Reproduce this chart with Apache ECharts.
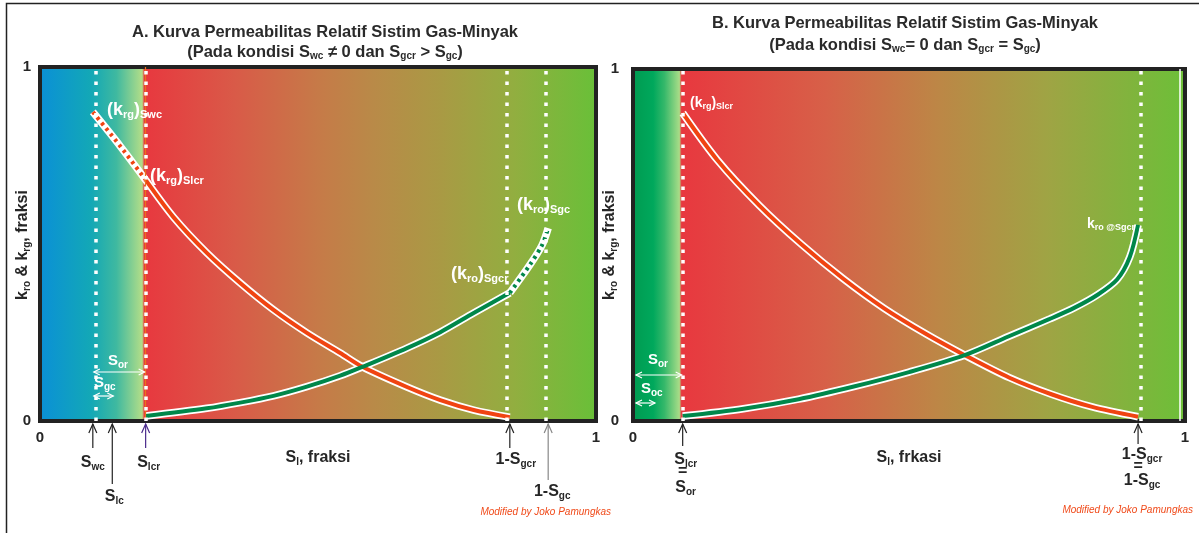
<!DOCTYPE html>
<html><head><meta charset="utf-8">
<script src="https://cdn.jsdelivr.net/npm/echarts@6/dist/echarts.min.js"></script>
<style>html,body{margin:0;padding:0;background:#fff}#c{width:1199px;height:533px}</style>
</head><body><div id="c"></div>
<script>
// ---------- DATA ----------
// Panel A : Swc != 0, Sgcr > Sgc
const A_krgDotted = [[0.095,0.873],[0.144,0.777],[0.19,0.681]];
const A_krg = [[0.19,0.681],[0.24,0.576],[0.30,0.475],[0.36,0.390],[0.42,0.314],[0.48,0.249],[0.54,0.192],[0.58,0.153],[0.66,0.096],[0.72,0.059],[0.78,0.031],[0.845,0.011]];
const A_kro = [[0.19,0.014],[0.30,0.036],[0.36,0.052],[0.42,0.071],[0.48,0.097],[0.54,0.128],[0.58,0.153],[0.66,0.206],[0.72,0.251],[0.78,0.305],[0.845,0.362]];
const A_kroDotted = [[0.845,0.362],[0.881,0.441],[0.903,0.497],[0.914,0.545]];
const A_Swc = 0.095, A_Slc = 0.13, A_Slcr = 0.19, A_1mSgcr = 0.845, A_1mSgc = 0.914;
// Panel B : Swc = 0, Sgcr = Sgc
const B_krg = [[0.09,0.875],[0.153,0.741],[0.229,0.612],[0.305,0.502],[0.381,0.404],[0.455,0.320],[0.531,0.247],[0.601,0.187],[0.682,0.123],[0.758,0.076],[0.832,0.040],[0.915,0.012]];
const B_kro = [[0.09,0.014],[0.20,0.035],[0.30,0.062],[0.40,0.098],[0.50,0.139],[0.601,0.187],[0.68,0.240],[0.755,0.290],[0.80,0.322],[0.841,0.358],[0.877,0.402],[0.90,0.466],[0.915,0.557]];
const B_Slcr = 0.09, B_1mSgcr = 0.915;
const axisTicks = [0, 1];

// ---------- STYLE ----------
const FF = '"Liberation Sans", Arial, Helvetica, sans-serif';
const RED = '#f04412', GREEN = '#00874a', DARK = '#262626';
function rich(m, s, col, drop) {
  return {
    m: {fontSize: m, fontWeight: 'bold', fontFamily: FF, fill: col, color: col},
    s: {fontSize: s, fontWeight: 'bold', fontFamily: FF, fill: col, color: col, padding: [drop, 0, 0, 0]}
  };
}
const chart = echarts.init(document.getElementById('c'), null, {renderer: 'canvas'});

const gradA = new echarts.graphic.LinearGradient(0, 0, 1, 0, [
  {offset: 0, color: '#0a8fd8'}, {offset: 0.095, color: '#13a8b6'}, {offset: 0.14, color: '#3fb9a0'},
  {offset: 0.186, color: '#b2dd88'}, {offset: 0.19, color: '#e8383f'}, {offset: 0.35, color: '#d95a48'},
  {offset: 0.5, color: '#c67a48'}, {offset: 0.6, color: '#b98a48'}, {offset: 0.72, color: '#a99a44'},
  {offset: 0.85, color: '#92ae40'}, {offset: 1, color: '#68c038'}]);
const gradB = new echarts.graphic.LinearGradient(0, 0, 1, 0, [
  {offset: 0, color: '#009a50'}, {offset: 0.04, color: '#00a85c'}, {offset: 0.06, color: '#35b86a'},
  {offset: 0.087, color: '#a8dc88'}, {offset: 0.091, color: '#e8383f'}, {offset: 0.35, color: '#d76048'},
  {offset: 0.55, color: '#bd8646'}, {offset: 0.75, color: '#9fa444'}, {offset: 0.92, color: '#7cb63c'},
  {offset: 1, color: '#6cc038'}]);

function xAxisDef(gi, name) {
  return {gridIndex: gi, type: 'value', min: 0, max: 1, interval: 1,
    axisLine: {show: false}, axisTick: {show: false}, splitLine: {show: false},
    axisLabel: {fontSize: 15, fontWeight: 'bold', fontFamily: FF, color: DARK, margin: 9},
    name: name, nameLocation: 'middle', nameGap: 18,
    nameTextStyle: {rich: rich(16, 10, DARK, 9)}};
}
function yAxisDef(gi, lblMargin) {
  return {gridIndex: gi, type: 'value', min: 0, max: 1, interval: 1,
    axisLine: {show: false}, axisTick: {show: false}, splitLine: {show: false},
    axisLabel: {fontSize: 15, fontWeight: 'bold', fontFamily: FF, color: DARK, margin: lblMargin}};
}
function vlines(vals) {
  const d = vals.map(v => ({xAxis: v}));
  return {silent: true, symbol: 'none', label: {show: false},
    lineStyle: {color: '#fff', width: 3.5, type: [3.5, 7], opacity: 1}, data: d, animation: false};
}
function curve(gi, data, color, dashed) {
  return [
    {type: 'line', xAxisIndex: gi, yAxisIndex: gi, data: data, showSymbol: false, smooth: 0.3,
      lineStyle: {color: '#ffffff', width: 7.5}, z: 3},
    {type: 'line', xAxisIndex: gi, yAxisIndex: gi, data: data, showSymbol: false, smooth: 0.3,
      lineStyle: {color: color, width: 4, type: dashed ? [3, 4] : 'solid'}, z: 4}
  ];
}

const series = [].concat(
  curve(0, A_krgDotted, RED, true),
  curve(0, A_krg, RED, false),
  curve(0, A_kro, GREEN, false),
  curve(0, A_kroDotted, GREEN, true),
  curve(1, B_krg, RED, false),
  curve(1, B_kro, GREEN, false)
);
series.push({type: 'line', xAxisIndex: 0, yAxisIndex: 0, data: [], z: 2,
  markLine: {silent: true, symbol: 'none', label: {show: false}, lineStyle: {color: '#e8741c', width: 1.2, type: 'solid'},
    data: [{xAxis: A_Slcr - 0.003}]}});
series.push({type: 'line', xAxisIndex: 0, yAxisIndex: 0, data: [], z: 5,
  markLine: vlines([A_Swc, A_Slcr, A_1mSgcr, A_1mSgc])});
series.push({type: 'line', xAxisIndex: 1, yAxisIndex: 1, data: [], z: 2,
  markLine: {silent: true, symbol: 'none', label: {show: false}, lineStyle: {color: '#ffffff', width: 1.5, type: 'solid'},
    data: [{xAxis: 0.994}]}});
series.push({type: 'line', xAxisIndex: 1, yAxisIndex: 1, data: [], z: 5,
  markLine: vlines([B_Slcr, B_1mSgcr])});

chart.setOption({
  animation: false,
  backgroundColor: '#ffffff',
  grid: [
    {left: 40, top: 67, width: 556, height: 354, show: true, backgroundColor: gradA, borderColor: '#222', borderWidth: 4, z: 0},
    {left: 633, top: 69, width: 552, height: 352, show: true, backgroundColor: gradB, borderColor: '#222', borderWidth: 4, z: 0}
  ],
  xAxis: [xAxisDef(0, '{m|S}{s|l}{m|, fraksi}'), xAxisDef(1, '{m|S}{s|l}{m|, frkasi}')],
  yAxis: [yAxisDef(0, 9), yAxisDef(1, 14)],
  series: series
});

// ---------- ANNOTATIONS ----------
const px = (gi, x, y) => chart.convertToPixel({gridIndex: gi}, [x, y]);
const G = [];
function txt(x, y, text, r, align, extra) {
  G.push(Object.assign({type: 'text', x: x, y: y, z: 100,
    style: {text: text, rich: r, align: align || 'left', verticalAlign: 'middle'}}, extra || {}));
}
function arrowUp(x, yTop, yBot, color) {
  G.push({type: 'line', z: 100, shape: {x1: x, y1: yBot, x2: x, y2: yTop}, style: {stroke: color, lineWidth: 1.2}});
  G.push({type: 'polyline', z: 100, shape: {points: [[x - 4, yTop + 9], [x, yTop], [x + 4, yTop + 9]]}, style: {stroke: color, lineWidth: 1.2, fill: null}});
}
function arrowBoth(x1, x2, y, color) {
  G.push({type: 'line', z: 100, shape: {x1: x1, y1: y, x2: x2, y2: y}, style: {stroke: color, lineWidth: 1.2}});
  G.push({type: 'polyline', z: 100, shape: {points: [[x1 + 6, y - 3], [x1, y], [x1 + 6, y + 3]]}, style: {stroke: color, lineWidth: 1.2, fill: null}});
  G.push({type: 'polyline', z: 100, shape: {points: [[x2 - 6, y - 3], [x2, y], [x2 - 6, y + 3]]}, style: {stroke: color, lineWidth: 1.2, fill: null}});
}
const rTitle = rich(16.5, 10, '#2a2a2a', 9);
const rLbl = rich(16, 10, DARK, 9);
const rW = rich(18, 11, '#ffffff', 10);
const rWs = rich(15, 10, '#ffffff', 9);
const rWb = rich(14, 9, '#ffffff', 8);
const rY = rich(16, 10, DARK, 9);

// frame
G.push({type: 'rect', z: 1, shape: {x: 6.5, y: 3.5, width: 1200, height: 560}, style: {fill: null, stroke: '#222', lineWidth: 1.5}});

// titles
txt(325, 32, '{m|A. Kurva Permeabilitas Relatif Sistim Gas-Minyak}', rTitle, 'center');
txt(325, 52, '{m|(Pada kondisi S}{s|wc}{m| ≠ 0 dan S}{s|gcr}{m| > S}{s|gc}{m|)}', rTitle, 'center');
txt(905, 23, '{m|B. Kurva Permeabilitas Relatif Sistim Gas-Minyak}', rTitle, 'center');
txt(905, 45, '{m|(Pada kondisi S}{s|wc}{m|= 0 dan S}{s|gcr}{m| = S}{s|gc}{m|)}', rTitle, 'center');

// y axis titles (rotated)
txt(23, 245, '{m|k}{s|ro}{m| & k}{s|rg}{m|, fraksi}', rY, 'center', {rotation: Math.PI / 2});
txt(610, 245, '{m|k}{s|ro}{m| & k}{s|rg}{m|, fraksi}', rY, 'center', {rotation: Math.PI / 2});

// Panel A markers below axis
const bA = px(0, 0, 0)[1] + 3;
const aSwc = px(0, A_Swc, 0)[0], aSlc = px(0, A_Slc, 0)[0], aSlcr = px(0, A_Slcr, 0)[0];
const aG1 = px(0, A_1mSgcr, 0)[0], aG2 = px(0, A_1mSgc, 0)[0];
arrowUp(aSwc, bA, bA + 24, '#222');
arrowUp(aSlc, bA, bA + 60, '#222');
arrowUp(aSlcr, bA, bA + 24, '#4a2a8c');
arrowUp(aG1, bA, bA + 24, '#222');
arrowUp(aG2, bA, bA + 56, '#888');
txt(aSwc, 463, '{m|S}{s|wc}', rLbl, 'center');
txt(aSlc + 2, 497, '{m|S}{s|lc}', rLbl, 'center');
txt(aSlcr + 3, 463, '{m|S}{s|lcr}', rLbl, 'center');
txt(aG1 + 6, 460, '{m|1-S}{s|gcr}', rLbl, 'center');
txt(aG2 + 4, 492, '{m|1-S}{s|gc}', rLbl, 'center');

// Panel A curve labels
txt(107, 110, '{m|(k}{s|rg}{m|)}{s|Swc}', rW);
txt(150, 176, '{m|(k}{s|rg}{m|)}{s|Slcr}', rW);
txt(517, 205, '{m|(k}{s|ro}{m|)}{s|Sgc}', rW);
txt(451, 274, '{m|(k}{s|ro}{m|)}{s|Sgcr}', rW);
// Sor / Sgc arrows A
arrowBoth(aSwc + 1, aSlcr - 1, 372, '#ffffff');
txt(108, 361, '{m|S}{s|or}', rWs);
arrowBoth(aSwc + 1, aSlc + 1, 396, '#ffffff');
txt(94, 383, '{m|S}{s|gc}', rWs);

// Panel B
const bB = px(1, 0, 0)[1] + 3;
const bSlcr = px(1, B_Slcr, 0)[0], bG = px(1, B_1mSgcr, 0)[0], b0 = px(1, 0, 0)[0];
arrowUp(bSlcr, bB, bB + 22, '#222');
arrowUp(bG, bB, bB + 20, '#222');
txt(bSlcr + 3, 460, '{m|S}{s|lcr}', rLbl, 'center');
txt(bSlcr, 472, '{m|=}', rLbl, 'center');
txt(bSlcr + 3, 488, '{m|S}{s|or}', rLbl, 'center');
txt(bG + 4, 455, '{m|1-S}{s|gcr}', rLbl, 'center');
txt(bG, 467, '{m|=}', rLbl, 'center');
txt(bG + 4, 481, '{m|1-S}{s|gc}', rLbl, 'center');
txt(690, 103, '{m|(k}{s|rg}{m|)}{s|Slcr}', rWb);
txt(1087, 224, '{m|k}{s|ro @Sgcr}', rich(14, 9, '#ffffff', 8));
arrowBoth(b0 + 3, bSlcr - 1, 375, '#ffffff');
txt(648, 360, '{m|S}{s|or}', rWs);
arrowBoth(b0 + 3, b0 + 22, 403, '#ffffff');
txt(641, 389, '{m|S}{s|oc}', rWs);

// credits
const rCred = {m: {fontSize: 10, fontStyle: 'italic', fontFamily: FF, fill: '#f04a1a'}};
txt(611, 512, '{m|Modified by Joko Pamungkas}', rCred, 'right');
txt(1193, 510, '{m|Modified by Joko Pamungkas}', rCred, 'right');

chart.setOption({graphic: G});
</script>
</body></html>
